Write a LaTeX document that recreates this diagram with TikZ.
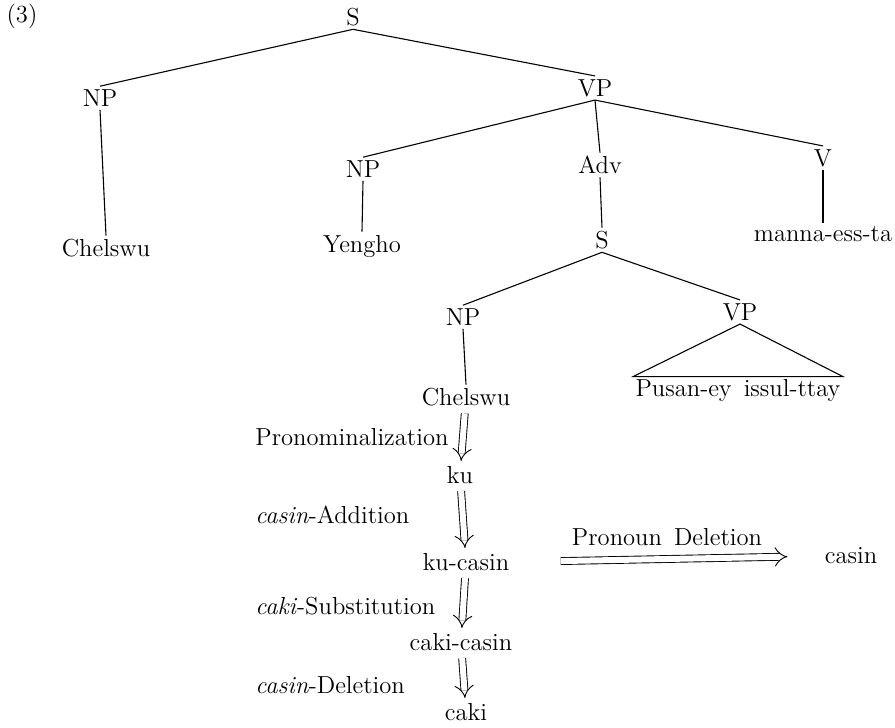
\documentclass[tikz,border=0pt]{standalone}
\usepackage{tikz}
\usetikzlibrary{arrows.meta}

\begin{document}
\begin{tikzpicture}[x=.5pt,y=-.5pt,font=\fontsize{12.3}{14}\selectfont,
lbl/.style={inner sep=1.5pt},
edge/.style={line width=.55pt},
deriv/.style={double,double distance=3pt,line width=.45pt,-{Implies},shorten <=2pt,shorten >=1pt}]
\useasboundingbox(0,0)rectangle(895,728);

\node[lbl](num)at(22,16){(3)};
% upper tree
\node[lbl](s)at(353,17){S};
\node[lbl](np)at(100,98){NP};
\node[lbl](vp)at(595,88){VP};
\node[lbl](chelswu)at(106,248){Chelswu};
\node[lbl](npb)at(363,169){NP};
\node[lbl](adv)at(600,165){Adv};
\node[lbl](v)at(823,158){V};
\node[lbl](yengho)at(362,246){Yengho};
\node[lbl](manna)at(823,234){manna-ess-ta};
\draw[edge](s.south)--(np.north);\draw[edge](s.south)--(vp.north);
\draw[edge](np.south)--(chelswu.north);
\draw[edge](vp.south)--(npb.north);\draw[edge](vp.south)--(adv.north);\draw[edge](vp.south)--(v.north);
\draw[edge](npb.south)--(yengho.north);\draw[edge](v.south)--(manna.north);
% embedded clause
\node[lbl](sb)at(602,240){S};
\node[lbl](npc)at(463,317){NP};
\node[lbl](vpb)at(740,312){VP};
\node[lbl,inner sep=1pt](pusan)at(738,390){Pusan-ey\, issul-ttay};
\node[lbl](chelswub)at(466,397){Chelswu};
\draw[edge](adv.south)--(sb.north);
\draw[edge](sb.south)--(npc.north);\draw[edge](sb.south)--(vpb.north);
\draw[edge](npc.south)--(chelswub.north);
\draw[edge](vpb.south)--(pusan.north west)--(pusan.north east)--cycle;
% derivation
\node[lbl](ku)at(460,475){ku};
\node[lbl](kucasin)at(466,562){ku-casin};
\node[lbl](cakicasin)at(461,642){caki-casin};
\node[lbl](caki)at(466,712){caki};
\node[lbl](casin)at(851,556){casin};
\node[lbl,anchor=west](pron)at(252,437){Pronominalization};
\node[lbl,anchor=west](add)at(252,515){\textit{casin}-Addition};
\node[lbl,anchor=west](subst)at(252,606){\textit{caki}-Substitution};
\node[lbl,anchor=west](del)at(252,685){\textit{casin}-Deletion};
\draw[deriv](chelswub)--(ku);
\draw[deriv](ku)--(kucasin);
\draw[deriv](kucasin)--(cakicasin);
\draw[deriv](cakicasin)--(caki);
\draw[deriv,shorten <=48pt/2,shorten >=34pt/2](kucasin.east)--node[above=5pt,lbl]{Pronoun\, Deletion}(casin.west);
\end{tikzpicture}
\end{document}
